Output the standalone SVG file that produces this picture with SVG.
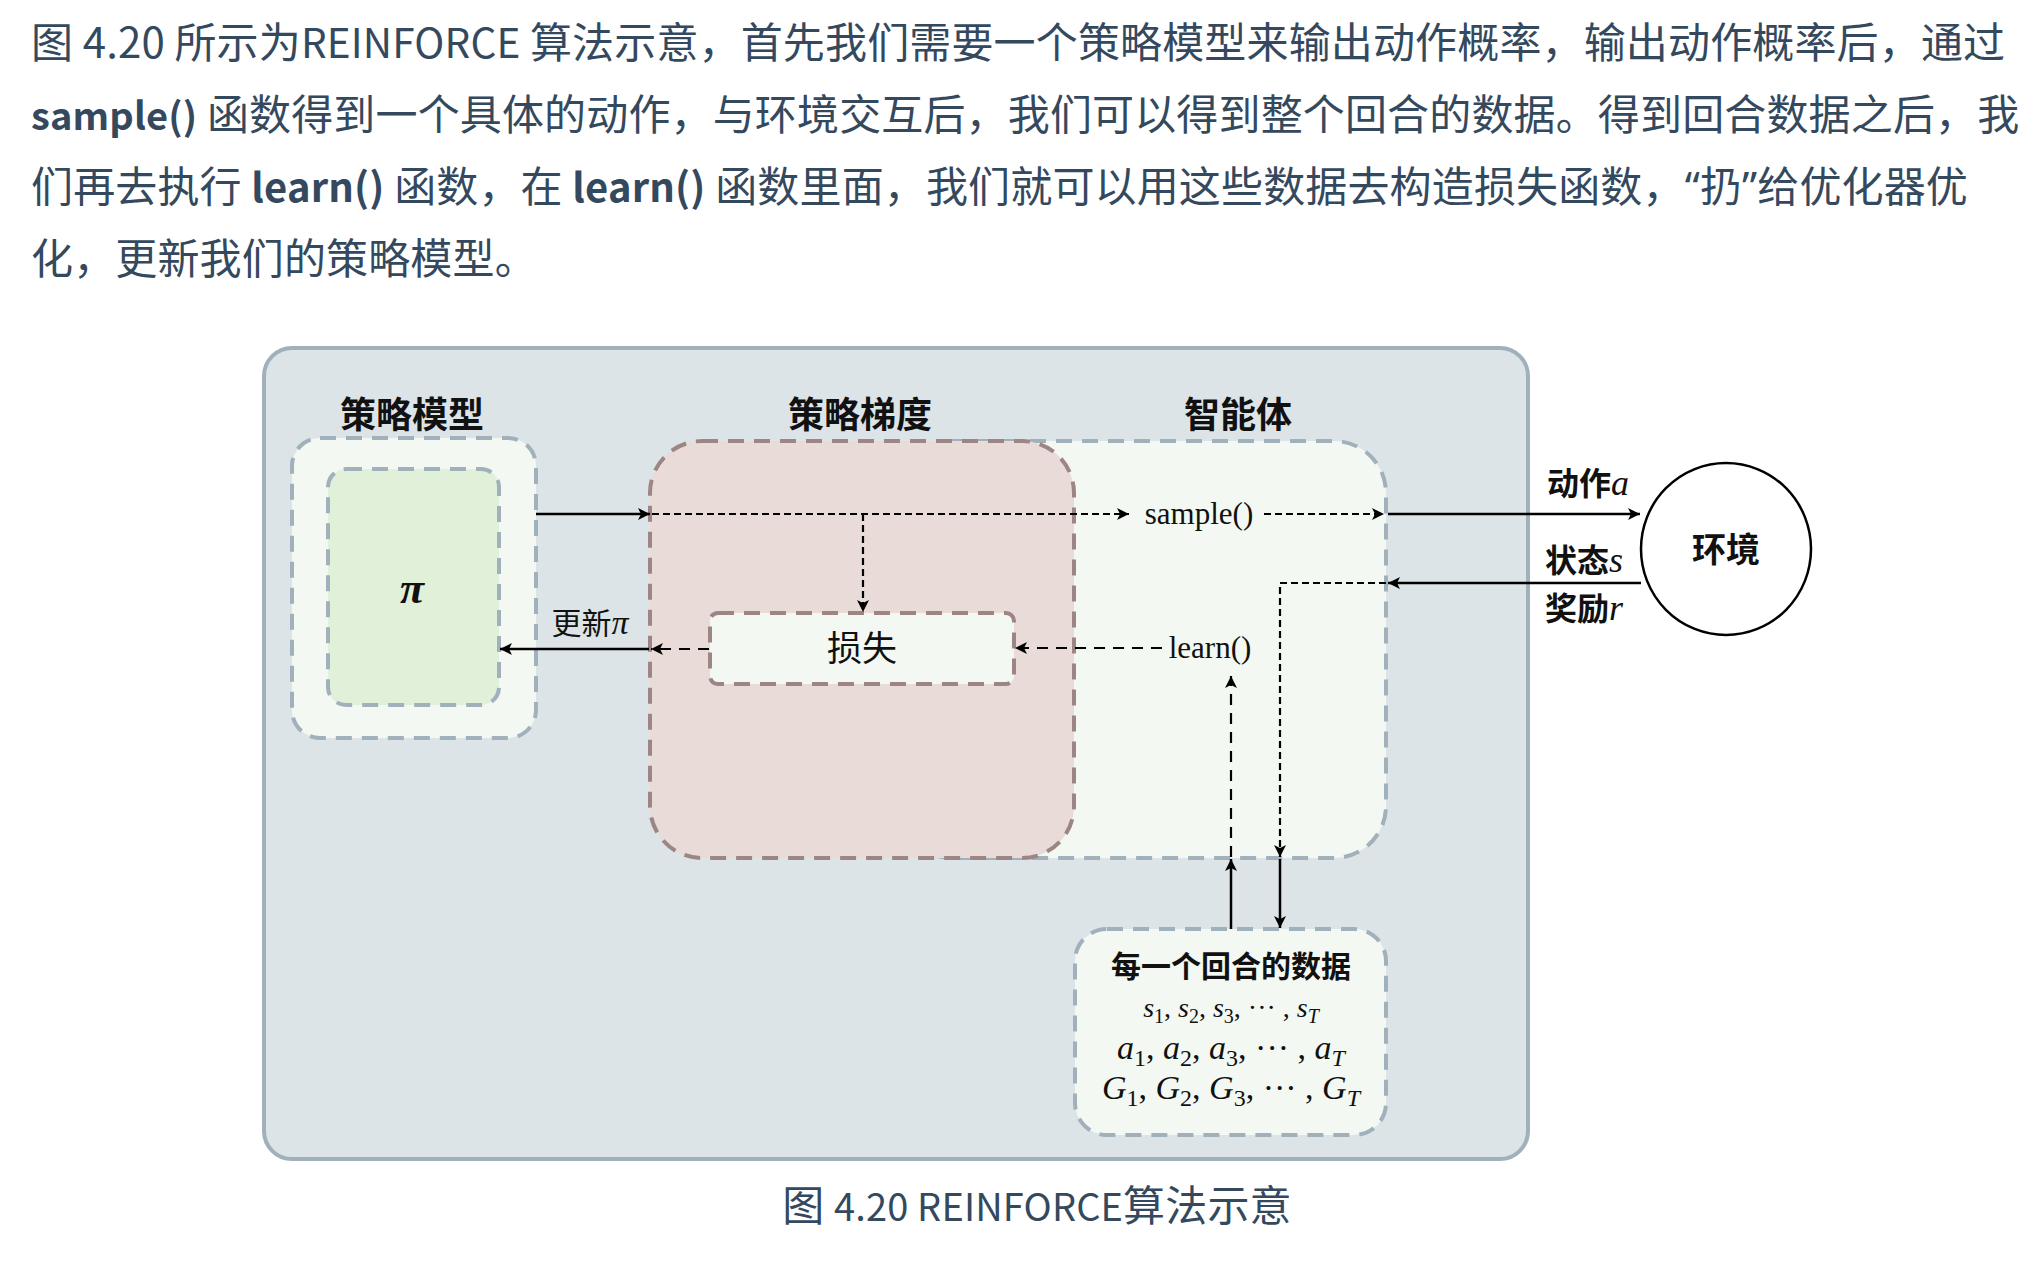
<svg xmlns="http://www.w3.org/2000/svg" width="2044" height="1274" viewBox="0 0 2044 1274">
<defs>
<style>
.para{font-family:"Noto Sans CJK SC","Noto Sans",sans-serif;font-size:42px;fill:#34495e;letter-spacing:0.15px}
.b{font-weight:bold}
.q{font-family:"Noto Sans","Noto Sans CJK SC",sans-serif}
.lbl{font-family:"Liberation Serif","Noto Sans CJK SC",serif;font-weight:bold;fill:#111;text-anchor:middle}
.reg{font-family:"Liberation Serif","Noto Sans CJK SC",serif;font-weight:normal;fill:#111;text-anchor:middle}
.fn{font-family:"Liberation Serif","Noto Sans CJK SC",serif;font-size:31px;fill:#111;text-anchor:middle}
.math{font-family:"Liberation Serif","Noto Sans CJK SC",serif;font-style:italic;fill:#111;text-anchor:middle}
.up{font-style:normal}
.box{fill:#f4f8f2;stroke:#a0b1bc;stroke-width:4;stroke-dasharray:16 10}
.solid{stroke:#000;stroke-width:2.5;fill:none;marker-end:url(#ah)}
.dash{stroke:#000;stroke-width:2.2;fill:none;stroke-dasharray:7 4;marker-end:url(#ah)}
.dashl{stroke:#000;stroke-width:2.2;fill:none;stroke-dasharray:11 8;marker-end:url(#ah)}
</style>
<marker id="ah" markerUnits="userSpaceOnUse" markerWidth="14" markerHeight="12" refX="12" refY="6" orient="auto">
<path d="M0,0 L12,6 L0,12 L3,6 z" fill="#000"/>
</marker>
</defs>
<rect width="2044" height="1274" fill="#fff"/>
<g id="paragraph">
<text class="para" x="31" y="58">图 4.20 所示为<tspan font-size="40.5">REINFORCE</tspan> 算法示意，首先我们需要一个策略模型来输出动作概率，输出动作概率后，通过</text>
<text class="para" x="31" y="130"><tspan class="b" font-size="38">sample()</tspan> 函数得到一个具体的动作，与环境交互后，我们可以得到整个回合的数据。得到回合数据之后，我</text>
<text class="para" x="31" y="202">们再去执行 <tspan class="b" font-size="40">learn()</tspan> 函数，在 <tspan class="b" font-size="40">learn()</tspan> 函数里面，我们就可以用这些数据去构造损失函数，<tspan class="q">“</tspan>扔<tspan class="q">”</tspan>给优化器优</text>
<text class="para" x="31" y="274">化，更新我们的策略模型。</text>
</g>
<g id="outer">
<rect x="264" y="348" width="1264" height="811" rx="28" fill="#dce4e7" stroke="#a0b1bc" stroke-width="4"/>
</g>
<g id="policy-model">
<text class="lbl" x="412" y="428" font-size="36">策略模型</text>
<rect class="box" x="292" y="438" width="244" height="300" rx="28"/>
<rect x="328" y="469" width="171" height="236" rx="18" fill="#e0f0d9" stroke="#a0b1bc" stroke-width="4" stroke-dasharray="16 10"/>
<text class="math" x="412" y="603" font-size="44" font-weight="bold">π</text>
</g>
<g id="agent">
<text class="lbl" x="1238" y="428" font-size="36">智能体</text>
<rect class="box" x="900" y="441" width="486" height="417" rx="52"/>
</g>
<g id="policy-gradient">
<text class="lbl" x="860" y="428" font-size="36">策略梯度</text>
<rect x="650" y="441" width="424" height="417" rx="52" fill="#e8dbd8" stroke="#9e8585" stroke-width="4" stroke-dasharray="16 10"/>
</g>
<g id="loss">
<rect x="710" y="613" width="304" height="71" rx="8" fill="#f4f8f2" stroke="#9e8585" stroke-width="4" stroke-dasharray="16 10"/>
<text class="reg" x="862" y="661" font-size="35">损失</text>
</g>
<g id="sample">
<text class="fn" x="1199" y="524">sample()</text>
</g>
<g id="learn">
<text class="fn" x="1210" y="658">learn()</text>
</g>
<g id="environment">
<ellipse cx="1726" cy="549" rx="85" ry="86" fill="#fff" stroke="#000" stroke-width="2.5"/>
<text class="lbl" x="1726" y="562" font-size="34">环境</text>
</g>
<g id="episode-data">
<rect class="box" x="1075" y="929" width="311" height="206" rx="32"/>
<text class="lbl" x="1231" y="977" font-size="30">每一个回合的数据</text>
<text class="math" x="1231" y="1017" font-size="28">s<tspan class="up" font-size="20" dy="6">1</tspan><tspan class="up" dy="-6">, </tspan>s<tspan class="up" font-size="20" dy="6">2</tspan><tspan class="up" dy="-6">, </tspan>s<tspan class="up" font-size="20" dy="6">3</tspan><tspan class="up" dy="-6">, ··· , </tspan>s<tspan font-size="20" dy="6">T</tspan></text>
<text class="math" x="1231" y="1059" font-size="34">a<tspan class="up" font-size="24" dy="7">1</tspan><tspan class="up" dy="-7">, </tspan>a<tspan class="up" font-size="24" dy="7">2</tspan><tspan class="up" dy="-7">, </tspan>a<tspan class="up" font-size="24" dy="7">3</tspan><tspan class="up" dy="-7">, ··· , </tspan>a<tspan font-size="24" dy="7">T</tspan></text>
<text class="math" x="1231" y="1099" font-size="34">G<tspan class="up" font-size="24" dy="7">1</tspan><tspan class="up" dy="-7">, </tspan>G<tspan class="up" font-size="24" dy="7">2</tspan><tspan class="up" dy="-7">, </tspan>G<tspan class="up" font-size="24" dy="7">3</tspan><tspan class="up" dy="-7">, ··· , </tspan>G<tspan font-size="24" dy="7">T</tspan></text>
</g>
<g id="connectors">
<line class="solid" x1="536" y1="514" x2="650" y2="514"/>
<line class="dash" x1="652" y1="514" x2="1129" y2="514"/>
<line class="dash" x1="1264" y1="514" x2="1384" y2="514"/>
<line class="solid" x1="1388" y1="514" x2="1640" y2="514"/>
<line class="dash" x1="863" y1="514" x2="863" y2="612"/>
<line class="solid" x1="1641" y1="583" x2="1388" y2="583"/>
<path class="dash" d="M1386,583 H1280 V857"/>
<line class="solid" x1="1280" y1="859" x2="1280" y2="928"/>
<line class="solid" x1="1231" y1="929" x2="1231" y2="859"/>
<line class="dashl" x1="1231" y1="857" x2="1231" y2="676"/>
<line class="dashl" x1="1162" y1="648" x2="1015" y2="648"/>
<line class="dashl" x1="709" y1="649" x2="651" y2="649"/>
<line class="solid" x1="649" y1="649" x2="500" y2="649"/>
<text class="reg" x="590" y="634" font-size="30">更新<tspan font-style="italic" font-size="34">π</tspan></text>
<text class="lbl" x="1588" y="495" font-size="32">动作<tspan font-style="italic" font-weight="normal" font-size="36">a</tspan></text>
<text class="lbl" x="1584" y="572" font-size="32">状态<tspan font-style="italic" font-weight="normal" font-size="36">s</tspan></text>
<text class="lbl" x="1584" y="620" font-size="32">奖励<tspan font-style="italic" font-weight="normal" font-size="36">r</tspan></text>
</g>
<g id="caption">
<text class="para" x="1037" y="1221" text-anchor="middle">图 <tspan font-size="38">4.20 REINFORCE</tspan>算法示意</text>
</g>
</svg>
